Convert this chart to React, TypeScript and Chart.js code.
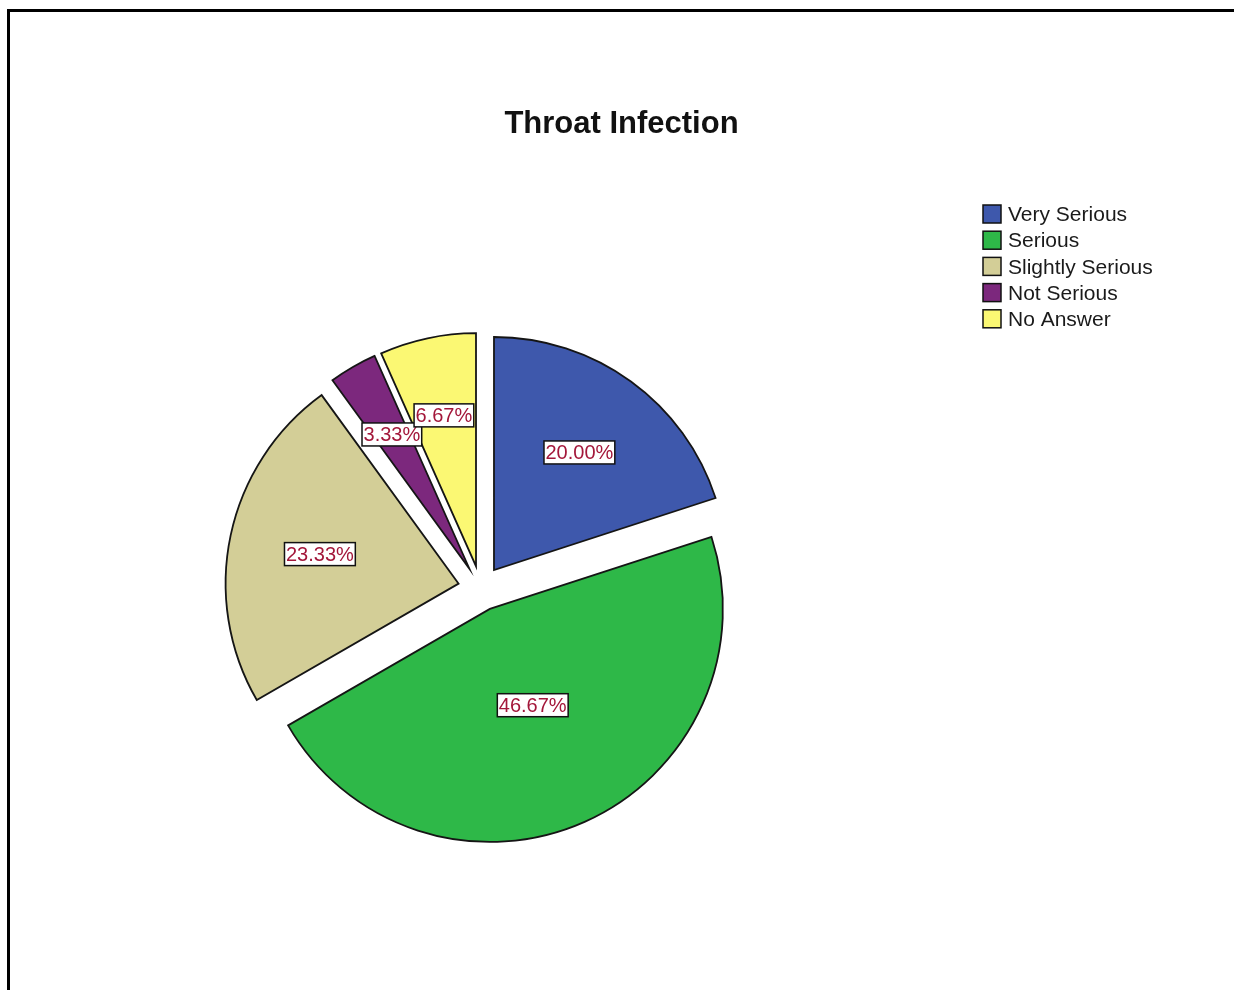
import React, { useEffect, useRef } from 'react';
import { Chart, registerables, ArcElement } from 'chart.js';

Chart.register(...registerables);

// ---- data ----
const TITLE = 'Throat Infection';
const CATEGORIES = ['Very Serious', 'Serious', 'Slightly Serious', 'Not Serious', 'No Answer'];
const PERCENTAGES = [20.0, 46.67, 23.33, 3.33, 6.67];
const COLORS = ['#3e58ac', '#2eb848', '#d3ce97', '#7c287d', '#fbf873'];

// ---- style ----
const EXPLODE = 22.6;
const FONT_FAMILY = '"Liberation Sans", Arial, Helvetica, sans-serif';
const LABEL_COLOR = '#a3173a';

class ExplodedArc extends ArcElement {
  static id = 'explodedArc';
  draw(ctx: CanvasRenderingContext2D) {
    const self: any = this;
    const mid = (self.startAngle + self.endAngle) / 2;
    ctx.save();
    ctx.translate(Math.cos(mid) * EXPLODE, Math.sin(mid) * EXPLODE);
    super.draw(ctx);
    ctx.restore();
  }
}
Chart.register(ExplodedArc as any);
(Chart.defaults.datasets as any).pie.dataElementType = 'explodedArc';

const decorPlugin = {
  id: 'spssDecor',
  afterDatasetsDraw(chart: any) {
    const ctx: CanvasRenderingContext2D = chart.ctx;
    const meta = chart.getDatasetMeta(0);
    const values: number[] = chart.data.datasets[0].data;
    const total = values.reduce((a, b) => a + b, 0);
    ctx.save();
    // percentage labels at the centroid of each exploded sector
    meta.data.forEach((arc: any, i: number) => {
      const p = arc.getProps(['x', 'y', 'startAngle', 'endAngle', 'outerRadius'], true);
      const mid = (p.startAngle + p.endAngle) / 2;
      const theta = p.endAngle - p.startAngle;
      const d = (4 * p.outerRadius * Math.sin(theta / 2)) / (3 * theta);
      const cx = p.x + Math.cos(mid) * (EXPLODE + d);
      const cy = p.y + Math.sin(mid) * (EXPLODE + d);
      const text = ((values[i] / total) * 100).toFixed(2) + '%';
      ctx.font = `20px ${FONT_FAMILY}`;
      const w = ctx.measureText(text).width + 3;
      const h = 23;
      ctx.fillStyle = '#ffffff';
      ctx.fillRect(cx - w / 2, cy - h / 2, w, h);
      ctx.lineWidth = 1.5;
      ctx.strokeStyle = '#111111';
      ctx.strokeRect(cx - w / 2, cy - h / 2, w, h);
      ctx.fillStyle = LABEL_COLOR;
      ctx.textAlign = 'center';
      ctx.textBaseline = 'middle';
      ctx.fillText(text, cx, cy + 1);
    });

    // title
    ctx.font = `bold 31px ${FONT_FAMILY}`;
    ctx.fillStyle = '#111111';
    ctx.textAlign = 'center';
    ctx.textBaseline = 'alphabetic';
    ctx.fillText(chart.options.plugins.customTitle.text, 621.5, 133);

    // legend
    const labels: string[] = chart.data.labels;
    const colors: string[] = chart.data.datasets[0].backgroundColor;
    const lx = 983;
    const ly = 205;
    const pitch = 26.2;
    const box = 18;
    labels.forEach((lab, i) => {
      const y = ly + i * pitch;
      ctx.fillStyle = colors[i];
      ctx.fillRect(lx, y, box, box);
      ctx.lineWidth = 1.5;
      ctx.strokeStyle = '#111111';
      ctx.strokeRect(lx, y, box, box);
      ctx.font = `21px ${FONT_FAMILY}`;
      ctx.fillStyle = '#1a1a1a';
      ctx.textAlign = 'left';
      ctx.textBaseline = 'middle';
      ctx.fillText(lab, lx + box + 7, y + box / 2 + 1.5);
    });
    ctx.restore();
  },
};

export default function App() {
  const ref = useRef<HTMLCanvasElement>(null);
  useEffect(() => {
    if (!ref.current) return;
    const chart = new Chart(ref.current, {
      type: 'pie',
      data: {
        labels: CATEGORIES,
        datasets: [
          {
            data: PERCENTAGES,
            backgroundColor: COLORS,
            borderColor: '#151515',
            borderWidth: 1.8,
            borderJoinStyle: 'miter',
            radius: 233,
          } as any,
        ],
      },
      options: {
        responsive: false,
        animation: false,
        devicePixelRatio: 1,
        events: [],
        layout: { padding: { left: 0, right: 272.6, top: 186.6, bottom: 0 } },
        plugins: {
          legend: { display: false },
          tooltip: { enabled: false },
          title: { display: false },
          customTitle: { text: TITLE },
        } as any,
      },
      plugins: [decorPlugin],
    });
    return () => chart.destroy();
  }, []);

  return (
    <div style={{ position: 'fixed', left: 0, top: 0, width: 1234, height: 990, overflow: 'hidden', background: '#ffffff' }}>
      <div
        style={{
          position: 'absolute',
          left: 7,
          top: 9,
          width: 1400,
          height: 1200,
          borderTop: '3px solid #000',
          borderLeft: '3px solid #000',
        }}
      />
      <canvas ref={ref} width={1234} height={990} style={{ position: 'absolute', left: 0, top: 0 }} />
    </div>
  );
}
